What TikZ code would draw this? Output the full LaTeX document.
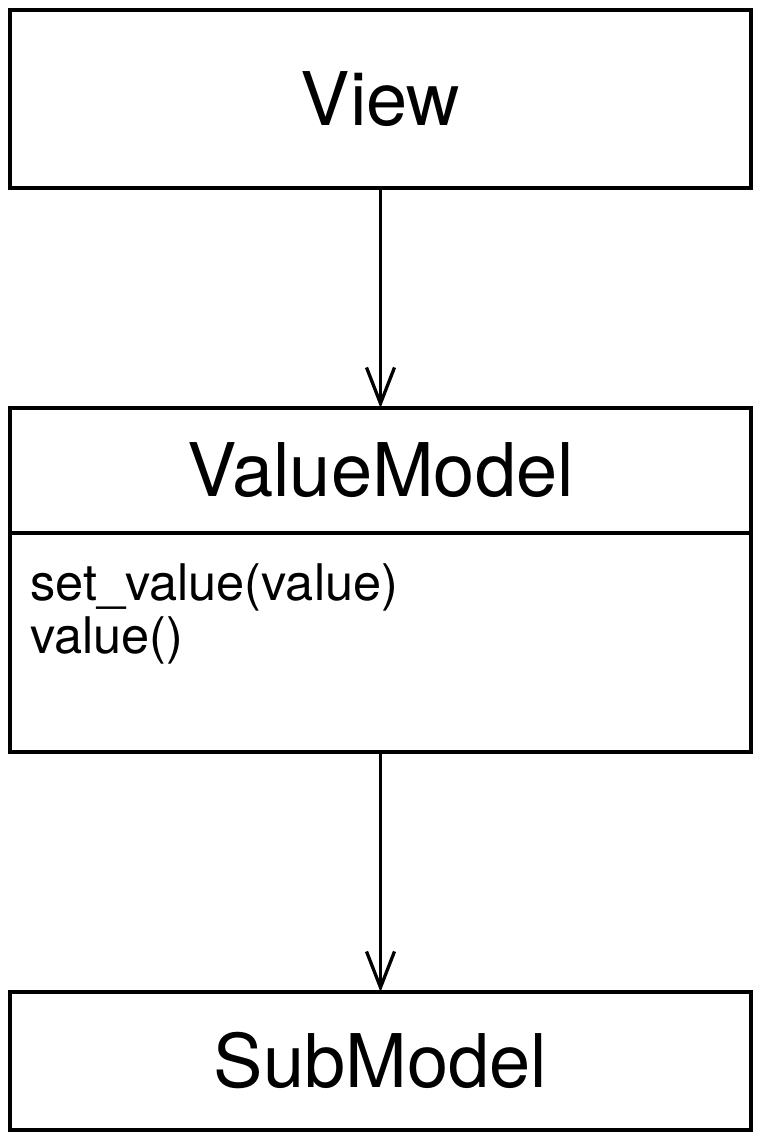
\documentclass[tikz,border=0pt]{standalone}
\usepackage{fontspec}
\setmainfont{TeX Gyre Heros}
\usetikzlibrary{arrows.meta}
\begin{document}
\begin{tikzpicture}[x=1pt,y=-1pt,
  box/.style={draw,line width=3.3pt,minimum width=741pt,inner sep=0pt,outer sep=0pt,font=\fontsize{74}{88}\selectfont},
  meth/.style={anchor=base west,inner sep=0pt,font=\fontsize{50.5}{53}\selectfont},
  arr/.style={line width=3.3pt,-{Straight Barb[length=36pt,width=28pt,line width=3.3pt]}}]
\useasboundingbox (0,0) rectangle (758,1137);
\node[box,minimum height=178pt] (view) at (380.5,99) {View};
\node[box,minimum height=125pt] (vmt) at (380.5,470.5) {ValueModel};
\node[box,minimum height=219pt] (vmb) at (380.5,642.5) {};
\node[box,minimum height=138pt] (sub) at (380.5,1061) {SubModel};
\node[meth] (m1) at (30,600) {set\_value(value)};
\node[meth] (m2) at (30,653) {value()};
\draw[arr] (view.south) -- (vmt.north);
\draw[arr] (vmb.south) -- (sub.north);
\end{tikzpicture}
\end{document}
